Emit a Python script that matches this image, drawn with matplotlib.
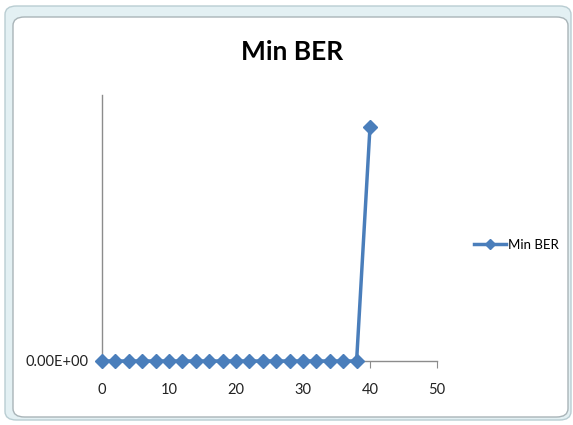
import matplotlib.pyplot as plt
from matplotlib.patches import FancyBboxPatch

# Minimum BER per step
steps = [0, 2, 4, 6, 8, 10, 12, 14, 16, 18, 20, 22, 24, 26, 28, 30, 32, 34, 36, 38, 40]
min_ber = [0, 0, 0, 0, 0, 0, 0, 0, 0, 0, 0, 0, 0, 0, 0, 0, 0, 0, 0, 0, 0.88]
x_ticks = [0, 10, 20, 30, 40, 50]

W, H = 573, 425
fig = plt.figure(figsize=(W / 100, H / 100), dpi=100)
fig.patch.set_facecolor('white')

plt.rcParams['font.family'] = ['Lato', 'DejaVu Sans']

# spreadsheet-style chart frame
outer = FancyBboxPatch((5 / W, 5 / H), 566 / W, 414 / H,
                       boxstyle='round,pad=0,rounding_size=0.02',
                       transform=fig.transFigure, facecolor='#e3f0f3',
                       edgecolor='#b9cdd2', linewidth=1.0, zorder=-2)
inner = FancyBboxPatch((13 / W, 8 / H), 555 / W, 400 / H,
                       boxstyle='round,pad=0,rounding_size=0.02',
                       transform=fig.transFigure, facecolor='white',
                       edgecolor='#a9b4b8', linewidth=1.0, zorder=-1)
fig.patches.extend([outer, inner])

ax = fig.add_axes([102 / W, 64 / H, 335 / W, 266 / H])
ax.set_zorder(2)
ax.set_facecolor('none')
ax.plot(steps, min_ber, color='#4a7ebb', linewidth=2.5, marker='D',
        markersize=7, label='Min BER', clip_on=False, zorder=3)

ax.set_xlim(0, 50)
ax.set_ylim(0, 1)
ax.set_xticks(x_ticks)
ax.set_yticks([0])
ax.set_yticklabels(['0.00E+00'])

for side in ['top', 'right']:
    ax.spines[side].set_visible(False)
for side in ['left', 'bottom']:
    ax.spines[side].set_color('#8c8c8c')
    ax.spines[side].set_linewidth(1.0)

ax.tick_params(axis='x', direction='out', length=5, color='#8c8c8c',
               labelsize=10.5, pad=11, labelcolor='#222222')
ax.tick_params(axis='y', length=0, labelsize=10.5, pad=10, labelcolor='#222222')

fig.text(292 / W, 1 - 52 / H, 'Min BER', ha='center', va='center',
         fontsize=19, fontweight='bold', color='black')

fig.legend(loc='center left', bbox_to_anchor=(462 / W, 1 - 245 / H),
           frameon=False, fontsize=9.5, handlelength=2.4, handletextpad=0.2,
           markerscale=0.8)

fig.savefig('out.png', dpi=100)
